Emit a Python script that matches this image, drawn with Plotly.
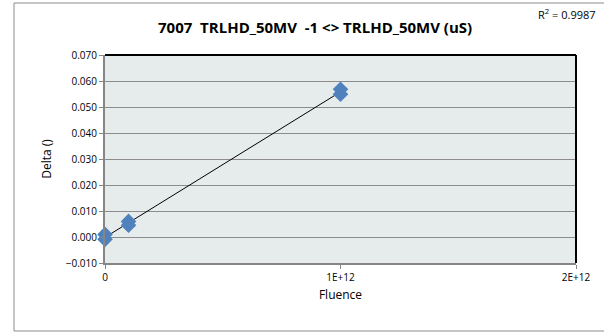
import plotly.graph_objects as go
import numpy as np

# data
fluence = [0, 0, 1e11, 1e11, 1e12, 1e12]
delta = [0.0010, -0.0009, 0.0060, 0.0045, 0.0568, 0.0549]

y_ticks = [-0.010, 0.000, 0.010, 0.020, 0.030, 0.040, 0.050, 0.060, 0.070]
x_ticks = [0, 1e12, 2e12]
x_ticklabels = ["0", "1E+12", "2E+12"]

title_txt = "<b>7007  TRLHD_50MV  -1 <> TRLHD_50MV (uS)</b>"
r2_txt = "R<sup>2</sup> = 0.9987"

# linear trendline like excel does
slope, icept = np.polyfit(fluence, delta, 1)
trend_x = [min(fluence), max(fluence)]
trend_y = [slope * v + icept for v in trend_x]

W, H = 604, 335
L, R, T, B = 105, 28, 55, 72
pw, ph = W - L - R, H - T - B

def px_x(px):
    return (px - L) / pw

def px_y(py):
    return (H - B - py) / ph

fig = go.Figure()
fig.add_trace(go.Scatter(x=trend_x, y=trend_y, mode="lines",
                         line=dict(color="black", width=1), hoverinfo="skip"))
fig.add_trace(go.Scatter(x=fluence, y=delta, mode="markers", cliponaxis=False,
                         marker=dict(symbol="diamond", size=12, color="#4F81BD",
                                     line=dict(width=0))))

fnt = "Open Sans"
fig.update_layout(
    width=W, height=H,
    margin=dict(l=L, r=R, t=T, b=B),
    showlegend=False,
    paper_bgcolor="white",
    plot_bgcolor="#E6EBEB",
    font=dict(family=fnt, size=10, color="black"),
)
fig.update_xaxes(range=[0, 2e12], tickvals=x_ticks, ticktext=x_ticklabels,
                 showgrid=False, zeroline=False, showline=True, linecolor="#868686",
                 linewidth=2, ticks="outside", ticklen=4, tickcolor="#868686",
                 automargin=False,
                 title=dict(text="Fluence", font=dict(size=12), standoff=8))
fig.update_yaxes(range=[-0.010, 0.070], tickvals=y_ticks, tickformat=".3f",
                 showgrid=True, gridcolor="#8C8C8C", gridwidth=1, zeroline=False,
                 showline=True, linecolor="#868686", linewidth=2,
                 ticks="outside", ticklen=4, tickcolor="#868686",
                 automargin=False,
                 title=dict(text="Delta ()", font=dict(size=12), standoff=12))

shapes = [
    # top and right dark border of plot area
    dict(type="line", xref="paper", yref="paper", x0=0, x1=1, y0=1, y1=1,
         line=dict(color="black", width=2)),
    dict(type="line", xref="paper", yref="paper", x0=1, x1=1, y0=0, y1=1,
         line=dict(color="black", width=2)),
    # outer chart border
    dict(type="rect", xref="paper", yref="paper",
         x0=px_x(14), x1=px_x(610), y0=px_y(331), y1=px_y(3),
         line=dict(color="#8C8C8C", width=1), layer="below"),
]
fig.update_layout(shapes=shapes)

fig.add_annotation(x=px_x(315), y=px_y(27), xref="paper", yref="paper",
                   xanchor="center", yanchor="middle",
                   text=title_txt, showarrow=False, font=dict(size=15))
fig.add_annotation(x=px_x(567), y=px_y(14), xref="paper", yref="paper",
                   xanchor="center", yanchor="middle",
                   text=r2_txt, showarrow=False, font=dict(size=11))

fig.write_html("out.html", config={"displayModeBar": False},
               post_script="document.body.style.margin='0';")
